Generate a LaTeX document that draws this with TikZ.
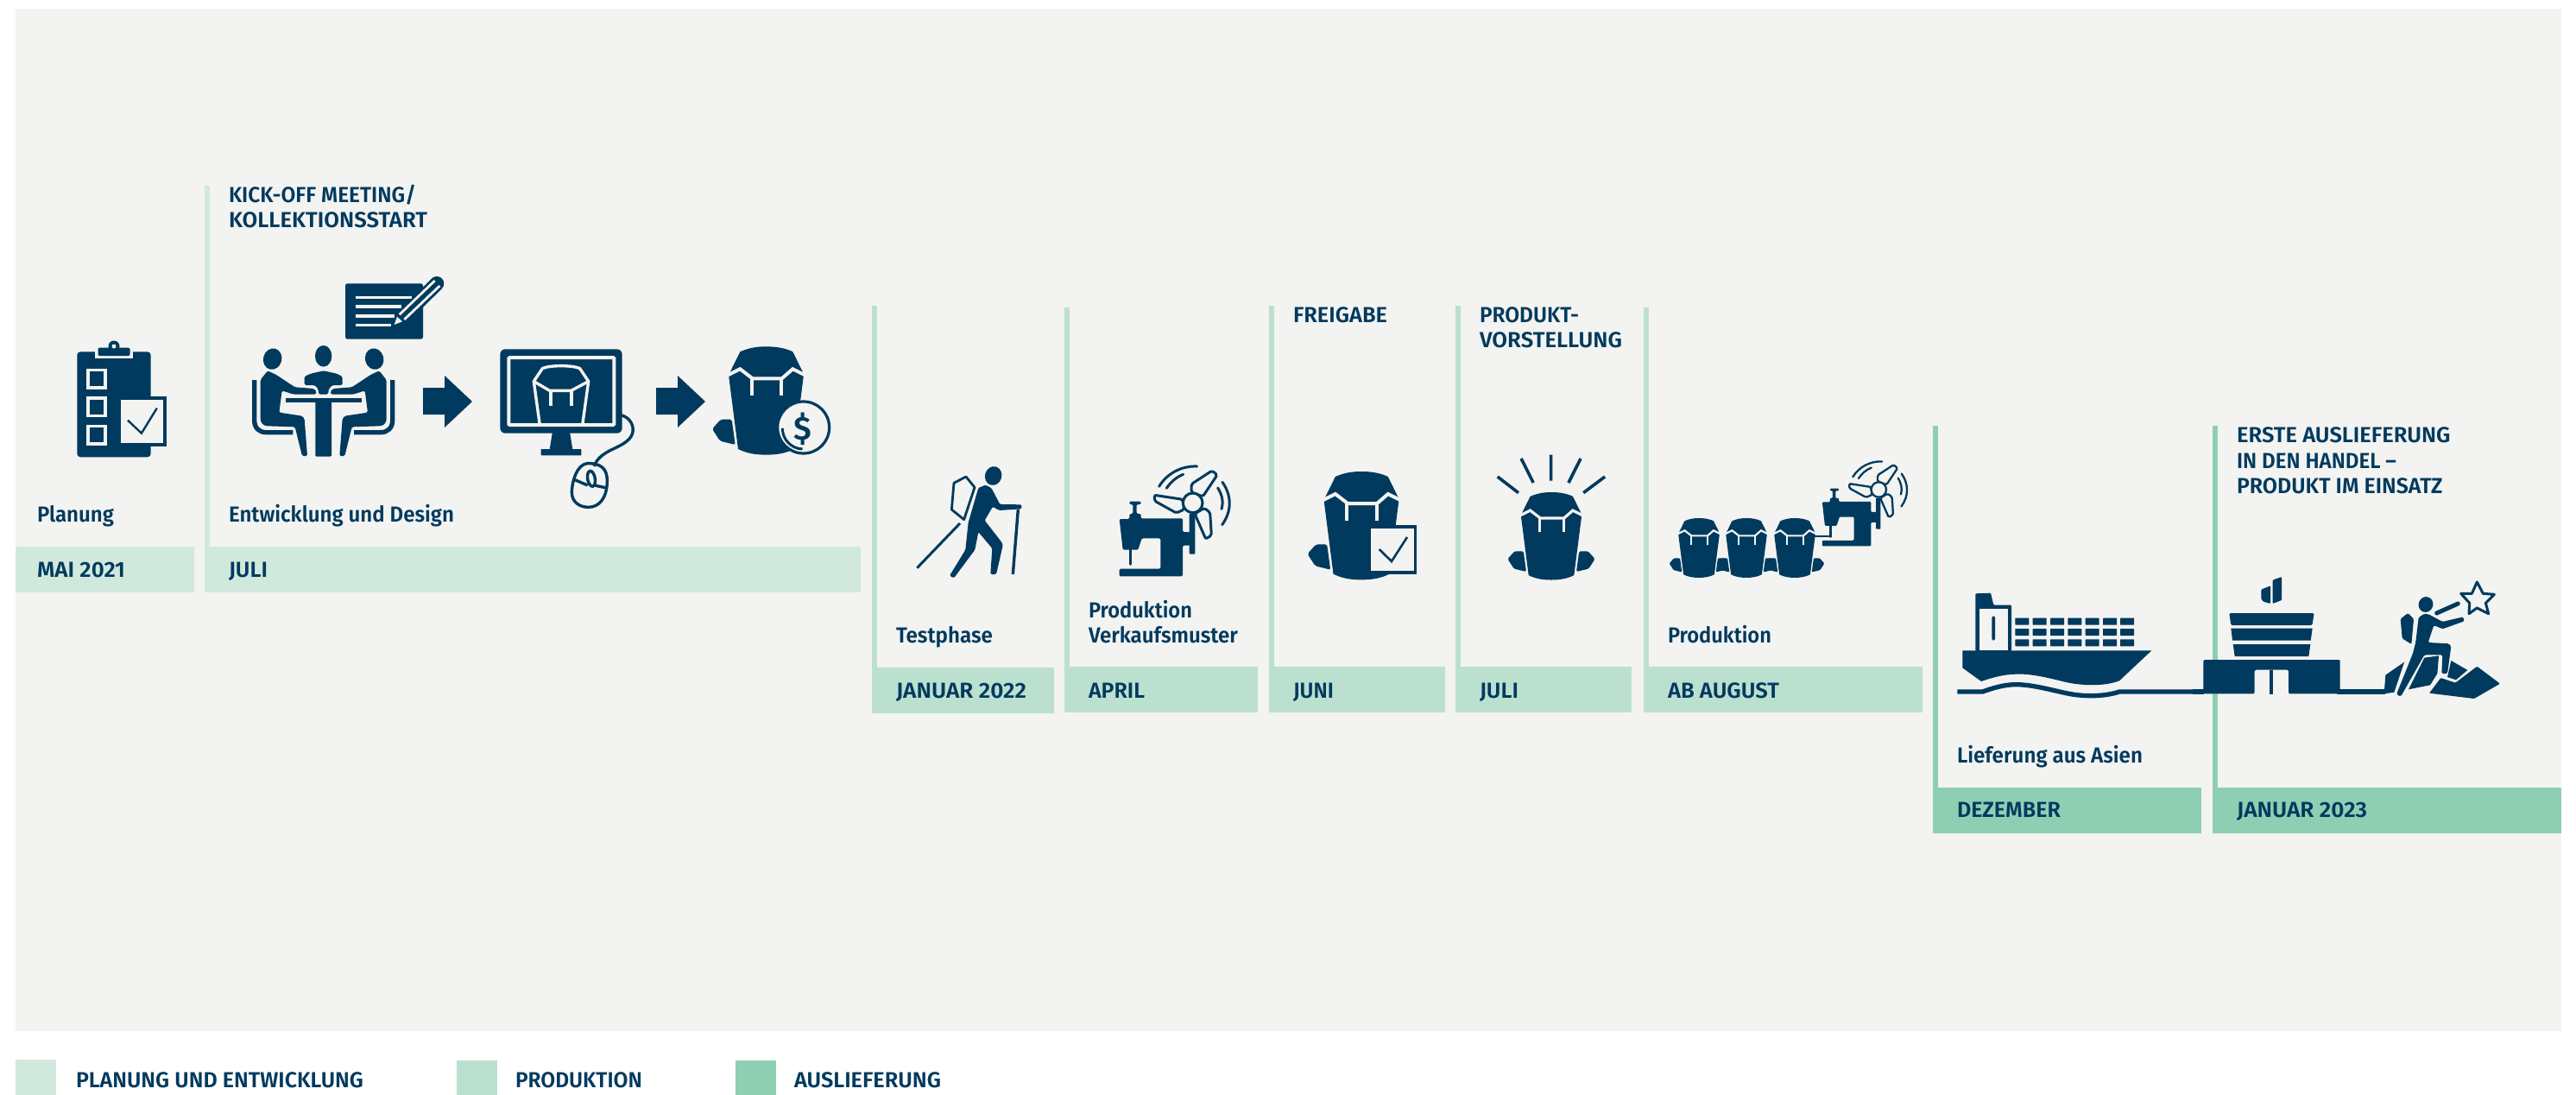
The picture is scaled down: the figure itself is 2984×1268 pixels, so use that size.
\documentclass[tikz,border=0pt]{standalone}
\usepackage{fontspec}
\setmainfont{Fira Sans}[BoldFont={Fira Sans SemiBold}]
\definecolor{navy}{HTML}{003A5E}
\definecolor{paper}{HTML}{F3F3F1}
\definecolor{planc}{HTML}{D1E8DD}
\definecolor{prodc}{HTML}{BCE0CF}
\definecolor{delc}{HTML}{8ECFB3}
\tikzset{
  zm/.style 2 args={shift={(#1,#2)},x=0.166667pt,y=-0.166667pt},
  za/.style 2 args={shift={(#1,#2)},x=0.31888pt,y=-0.166667pt},
  ink/.style={fill=navy,draw=none},
  gap/.style={fill=paper,draw=none},
  inkline/.style={draw=navy,fill=none},
  gapline/.style={draw=paper,fill=none},
  lbl/.style={anchor=base west,inner sep=0pt,outer sep=0pt,text=navy,font=\fontsize{12.6pt}{14pt}\selectfont\bfseries},
}
\newcommand\lbl[5]{\node[lbl] (#1) at (#2,#3) {\resizebox{#4pt}{\height}{#5}};}
% #1 = half-pixel width handled below
\newcommand\txt[5]{\pgfmathsetmacro\wtmp{#4/2}\lbl{#1}{#2}{#3}{\wtmp}{#5}}
\newcommand\stage[6]{% x1 x2 ytop y1 y2 colour
  \fill[#6] (#1,#3) rectangle ++(6,#5-#3);
  \fill[#6] (#1,#4) rectangle (#2,#5);}
\newcommand\pack[3]{% cx top scale
\begin{scope}[shift={(#1,#2)},x=#3*0.166667pt,y=-#3*0.166667pt,shift={(-262.5,-34)}]
  \fill[ink,rounded corners=#3*1pt] (105,287) -- (143,287) -- (155,375) -- (102,362) -- (75,320) -- cycle;
  \fill[ink,rounded corners=#3*1pt] (420,287) -- (382,287) -- (370,375) -- (423,362) -- (450,320) -- cycle;
  \fill[ink] (136,125) -- (172,52) .. controls (200,40) and (225,34) .. (262,34) .. controls (300,34) and (330,40) .. (355,52) -- (391,125) -- (392,140) -- (360,390) .. controls (330,405) and (300,410) .. (262,410) .. controls (225,410) and (195,405) .. (165,390) -- (133,140) -- cycle;
  \draw[gapline,line width=#3*2pt] (130,133) -- (172,112) -- (215,145) -- (317,145) -- (355,112) -- (397,133);
  \draw[gapline,line width=#3*2pt] (212,145) -- (212,205) (316,145) -- (316,205);
\end{scope}}
\newcommand\sewing[3]{% ox oy scale
\begin{scope}[shift={(#1,#2)},x=#3*0.166667pt,y=-#3*0.166667pt]
  \fill[ink,rounded corners=#3*0.7pt] (50,243) -- (85,243) -- (85,225) -- (97,225) -- (97,192) -- (85,192) -- (85,182) -- (125,182) -- (125,192) -- (110,192) -- (110,225) -- (125,225) -- (125,241) -- (270,241) -- (270,288) -- (295,288) -- (295,335) -- (270,335) -- (270,442) -- (50,442) -- (50,416) -- (193,416) -- (193,310) -- (128,310) -- (115,350) -- (62,350) -- cycle;
  \fill[ink,rounded corners=#3*0.5pt] (293,225) rectangle (313,365);
  \draw[inkline,line width=#3*1.6pt,line cap=round] (88,350) -- (88,400);
  \begin{scope}[line width=#3*1.5pt,draw=navy,fill=paper,rounded corners=#3*1pt]
    \filldraw (300,150) -- (300,122) -- (372,75) -- (390,90) -- (340,165) -- cycle;
    \filldraw (270,175) -- (172,160) -- (172,180) -- (248,222) -- (275,210) -- cycle;
    \filldraw (345,205) -- (365,220) -- (370,300) -- (350,312) -- (312,225) -- cycle;
  \end{scope}
  \filldraw[draw=navy,fill=paper,line width=#3*1.5pt] (305,187) circle [radius=34];
  \draw[inkline,line width=#3*1.5pt,line cap=round] (188,130) .. controls (215,85) and (265,58) .. (320,60);
  \draw[inkline,line width=#3*1.5pt,line cap=round] (214,136) .. controls (228,115) and (248,97) .. (272,88);
  \draw[inkline,line width=#3*1.5pt,line cap=round] (408,115) .. controls (440,160) and (442,215) .. (407,263);
  \draw[inkline,line width=#3*1.5pt,line cap=round] (392,135) .. controls (408,160) and (412,185) .. (405,208);
\end{scope}}
\begin{document}
\begin{tikzpicture}[x=0.5pt,y=-0.5pt]
\useasboundingbox (0,0) rectangle (2984,1268);
\fill[white] (0,0) rectangle (2984,1268);
\fill[paper] (18,10) rectangle (2967,1194);
% bars
\fill[planc] (18,633) rectangle (225,686);
\stage{237}{997}{215}{633}{686}{planc}
\stage{1010}{1221}{354}{773}{826}{prodc}
\stage{1233}{1457}{356}{772}{825}{prodc}
\stage{1470}{1674}{354}{772}{825}{prodc}
\stage{1686}{1890}{354}{772}{825}{prodc}
\stage{1904}{2227}{356}{772}{825}{prodc}
\stage{2239}{2550}{493}{912}{965}{delc}
\stage{2563}{2967}{493}{912}{965}{delc}
% legend
\fill[planc] (18,1227) rectangle (65,1268);
\fill[prodc] (529,1228) rectangle (576,1268);
\fill[delc] (852,1228) rectangle (899,1268);
\txt{l1}{88}{1259}{333}{PLANUNG UND ENTWICKLUNG}
\txt{l2}{597}{1259}{147}{PRODUKTION}
\txt{l3}{920}{1259}{170}{AUSLIEFERUNG}
% texts
\txt{t1}{43}{604.5}{89}{Planung}
\txt{t2}{43}{668.5}{102}{MAI 2021}
\txt{t3}{265}{234.5}{217}{KICK-OFF MEETING/}
\txt{t4}{265}{263.5}{230}{KOLLEKTIONSSTART}
\txt{t5}{265}{604.5}{261}{Entwicklung und Design}
\txt{t6}{265}{668.5}{45}{JULI}
\txt{t7}{1038}{744.5}{112}{Testphase}
\txt{t8}{1038}{808.5}{151}{JANUAR 2022}
\txt{t9}{1261}{715.5}{120}{Produktion}
\txt{t10}{1261}{744.5}{173}{Verkaufsmuster}
\txt{t11}{1261}{808.5}{65}{APRIL}
\txt{t12}{1498}{373.5}{109}{FREIGABE}
\txt{t13}{1498}{808.5}{47}{JUNI}
\txt{t14}{1714}{373.5}{115}{PRODUKT-}
\txt{t15}{1714}{402.5}{165}{VORSTELLUNG}
\txt{t16}{1714}{808.5}{45}{JULI}
\txt{t17}{1932}{744.5}{120}{Produktion}
\txt{t18}{1932}{808.5}{129}{AB AUGUST}
\txt{t19}{2267}{883.5}{215}{Lieferung aus Asien}
\txt{t20}{2267}{946.5}{120}{DEZEMBER}
\txt{t21}{2591}{512.5}{247.5}{ERSTE AUSLIEFERUNG}
\txt{t22}{2591}{542.5}{185}{IN DEN HANDEL –}
\txt{t23}{2591}{571.5}{238.5}{PRODUKT IM EINSATZ}
\txt{t24}{2591}{946.5}{151}{JANUAR 2023}
% clipboard
\begin{scope}[za={0}{200}]
  \fill[ink,rounded corners=2pt] (140,622) rectangle (274,988);
  \fill[gap] (172,604) rectangle (242,644);
  \fill[ink,rounded corners=0.7pt] (178,608) rectangle (236,636);
  \foreach \yy in {680,778,875} {
    \fill[gap] (157,\yy) rectangle (194,\yy+72);
    \fill[ink] (163,\yy+10) rectangle (188,\yy+62);
  }
  \fill[ink] (218,778) rectangle (302,950);
  \fill[gap] (220,790) rectangle (296,938);
  \draw[inkline,line width=1.2pt] (232,860) -- (257,905) -- (285,818);
\end{scope}
\fill[ink] (132,401) circle [radius=6.5];
\fill[gap] (132,401) circle [radius=2.5];
% meeting
\begin{scope}[zm={280}{310}]
  \fill[ink,rounded corners=1.2pt] (360,55) rectangle (630,248);
  \foreach \yy/\xx in {103/590,135/556,168/530,200/518} { \fill[gap] (396,\yy-5) rectangle (\xx,\yy+5); }
  \draw[inkline,line width=8.3pt,line cap=round] (560,172) -- (678,55);
  \draw[gapline,line width=1.4pt] (548,163) -- (671,45);
  \draw[gapline,line width=1.4pt] (565,180) -- (688,63);
  \fill[gap] (530,198) -- (540,170) -- (558,187) -- cycle;
  \fill[ink] (107,317) ellipse [x radius=32,y radius=37,rotate=-15];
  \fill[ink] (284,307) ellipse [x radius=29,y radius=37];
  \fill[ink] (461,317) ellipse [x radius=32,y radius=37,rotate=15];
  \foreach \m/\o in {1/0,-1/568} {
    \begin{scope}[shift={(\o,0)},xscale=\m]
      \fill[ink,rounded corners=0.8pt] (65,390) -- (90,358) -- (120,372) -- (185,415) -- (250,420) -- (260,430) -- (258,440) -- (180,440) -- (140,427) -- (130,503) -- (210,515) -- (218,525) -- (228,654) -- (210,654) -- (185,553) -- (90,550) .. controls (72,548) and (65,535) .. (65,520) -- cycle;
      \draw[inkline,line width=2.67pt] (44,390) -- (44,530) .. controls (44,558) and (62,572) .. (85,572) -- (178,572);
    \end{scope}
  }
  \fill[ink,rounded corners=0.8pt] (218,378) -- (240,368) -- (284,358) -- (330,368) -- (350,378) -- (350,408) -- (315,408) -- (303,420) -- (300,440) -- (268,440) -- (265,420) -- (253,408) -- (218,408) -- cycle;
  \fill[ink] (152,452) rectangle (417,468);
  \fill[ink,rounded corners=0.6pt] (256,460) rectangle (312,656);
\end{scope}
% arrows
\foreach \dx in {0,270} {
  \fill[ink] (490+\dx,449) -- (515+\dx,449) -- (515+\dx,435) -- (547+\dx,465) -- (515+\dx,495) -- (515+\dx,480) -- (490+\dx,480) -- cycle;
}
% monitor
\begin{scope}[zm={570}{390}]
  \fill[ink,rounded corners=3pt] (28,43) rectangle (452,335);
  \draw[gapline,line width=2pt,rounded corners=0.5pt] (58,72) rectangle (424,306);
  \draw[gapline,line width=1.7pt,line join=round] (165,300) -- (145,155) -- (175,110) .. controls (200,98) and (280,98) .. (305,110) -- (335,155) -- (315,300);
  \draw[gapline,line width=1.7pt,line join=round] (145,155) -- (200,187) -- (275,187) -- (335,155);
  \draw[gapline,line width=1.7pt] (204,187) -- (204,240) (276,187) -- (276,240);
  \fill[ink] (210,330) -- (270,330) -- (280,392) -- (200,392) -- cycle;
  \fill[ink,rounded corners=0.4pt] (170,390) rectangle (310,412);
  \draw[inkline,line width=1.7pt] (448,272) .. controls (480,280) and (495,310) .. (488,335) .. controls (480,365) and (440,380) .. (410,395) .. controls (385,408) and (362,425) .. (355,450);
  \draw[inkline,line width=1.7pt] (330,440) .. controls (295,445) and (278,500) .. (277,540) .. controls (277,575) and (305,592) .. (335,592) .. controls (372,592) and (400,560) .. (400,500) .. controls (400,465) and (385,438) .. (330,440) -- cycle;
  \draw[inkline,line width=1.7pt] (345,493) ellipse [x radius=13,y radius=27,rotate=10];
  \draw[inkline,line width=1.7pt] (288,497) -- (332,516) (356,516) -- (398,525);
\end{scope}
% pack with coin
\pack{887.5}{401.3}{1}
\begin{scope}[zm={800}{390}]
  \filldraw[fill=paper,draw=navy,line width=1.6pt] (392,315) circle [radius=90];
  \draw[inkline,line width=1.5pt] (319,318) arc [start angle=180,end angle=92,radius=72];
  \node[inner sep=0pt,text=navy,font=\fontsize{19pt}{19pt}\selectfont\bfseries] (coin) at (390,320) {\$};
\end{scope}
% hiker
\begin{scope}[zm={1050}{530}]
  \fill[ink] (302,63) ellipse [x radius=29,y radius=33,rotate=-15];
  \draw[inkline,line width=1.4pt,line join=round] (165,88) -- (207,66) -- (237,103) -- (200,215) -- (157,180) -- cycle;
  \draw[inkline,line width=1.5pt] (37,383) -- (186,228);
  \fill[ink,rounded corners=0.7pt] (250,105) -- (275,95) -- (295,105) -- (325,162) -- (400,163) -- (400,178) -- (322,183) -- (300,170) -- (272,218) -- (332,295) -- (335,305) -- (312,405) -- (292,405) -- (298,315) -- (250,258) -- (238,320) -- (165,418) -- (150,410) -- (205,320) -- (215,225) -- cycle;
  \draw[inkline,line width=1.7pt] (388,180) -- (370,405);
\end{scope}
% sewing machine
\sewing{1280}{520}{1}
% pack with paper
\pack{1577}{546}{1}
\fill[ink] (1587,608) rectangle (1641,665);
\fill[gap] (1588,612) rectangle (1638,661);
\draw[inkline,line width=1.3pt] (1597.6,636) -- (1612,650) -- (1630,622);
% pack with rays
\pack{1797}{570}{0.81}
\begin{scope}[za={1000}{340}]
  \draw[inkline,line width=1.8pt] (1249,560) -- (1249,650) (1195,573) -- (1217,657) (1303,573) -- (1281,657) (1152,636) -- (1190,692) (1347,636) -- (1308,692);
\end{scope}
% three packs
\pack{1968}{600}{0.55}
\pack{2023}{600}{0.55}
\pack{2079}{600}{0.55}
\sewing{2098}{519}{0.77}
\draw[inkline,line width=1pt] (2098,621) -- (2122,621);
% ship
\begin{scope}[zm={2260}{670}]
  \fill[ink,rounded corners=0.5pt] (85,52) -- (138,50) -- (148,92) -- (210,92) -- (210,252) -- (85,252) -- cycle;
  \fill[gap] (98,106) rectangle (198,250);
  \fill[ink,rounded corners=0.8pt] (142,130) rectangle (153,215);
  \foreach \yy in {137,174,211} { \foreach \xx in {223,284,345,406,467,528,588} {
    \fill[ink,rounded corners=0.3pt] (\xx,\yy) rectangle (\xx+48,\yy+24);
  } }
  \fill[ink] (40,250) -- (697,250) -- (585,355) .. controls (540,372) and (470,375) .. (400,360) .. controls (330,343) and (280,330) .. (225,332) .. controls (180,333) and (140,345) .. (105,357) -- (40,310) -- cycle;
  \draw[inkline,line width=2.67pt] (22,393) -- (110,393) .. controls (150,378) and (190,368) .. (225,368) .. controls (280,368) and (340,385) .. (400,398) .. controls (470,413) and (540,408) .. (585,393) -- (840,393);
\end{scope}
% terminal
\begin{scope}[zm={2540}{650}]
  \draw[inkline,line width=2.67pt] (0,453) -- (40,453) (500,453) -- (610,453);
  \fill[ink,rounded corners=0.5pt] (238,98) -- (270,85) -- (270,147) -- (245,140) -- (238,130) -- cycle;
  \fill[ink,rounded corners=0.5pt] (278,65) -- (309,54) -- (309,135) -- (278,147) -- cycle;
  \fill[ink,rounded corners=0.7pt] (127,180) -- (422,180) -- (415,222) -- (133,222) -- cycle;
  \fill[ink] (133,233) -- (416,233) -- (410,275) -- (138,275) -- cycle;
  \fill[ink] (140,288) -- (409,288) -- (403,330) -- (146,330) -- cycle;
  \fill[ink,rounded corners=0.7pt] (37,342) -- (512,342) -- (512,460) -- (333,460) -- (333,377) -- (215,377) -- (215,460) -- (37,460) -- cycle;
  \fill[ink] (268,377) rectangle (280,462);
\end{scope}
% climber
\begin{scope}[zm={2740}{660}]
  \draw[inkline,line width=2.67pt] (0,423) -- (70,423);
  \draw[inkline,line width=1.5pt,line join=round] (388,42) -- (409,82) -- (448,85) -- (418,115) -- (428,152) -- (388,132) -- (360,152) -- (362,115) -- (332,82) -- (370,82) -- cycle;
  \fill[ink] (210,120) ellipse [x radius=25,y radius=27,rotate=-20];
  \draw[inkline,line width=2.5pt,line cap=round] (248,150) -- (322,117);
  \fill[ink,rounded corners=0.7pt] (122,170) -- (148,150) -- (168,170) -- (160,258) -- (128,238) -- cycle;
  \fill[ink,rounded corners=0.8pt] (185,165) -- (205,152) -- (222,155) -- (268,180) -- (340,163) -- (344,178) -- (268,205) -- (238,192) -- (218,252) -- (290,256) -- (298,265) -- (285,360) -- (265,360) -- (268,295) -- (205,295) -- (123,440) -- (108,432) -- (165,290) -- (175,250) -- cycle;
  \fill[ink] (70,365) -- (135,320) -- (100,425) -- (65,430) -- cycle;
  \fill[ink] (205,305) -- (255,298) -- (250,360) -- (225,400) -- (150,415) -- cycle;
  \fill[ink] (298,315) -- (355,348) -- (315,382) -- (285,372) -- cycle;
  \fill[ink,rounded corners=0.5pt] (388,335) -- (468,395) -- (378,447) -- (222,428) -- (262,375) -- (313,392) -- cycle;
\end{scope}
\end{tikzpicture}
\end{document}
